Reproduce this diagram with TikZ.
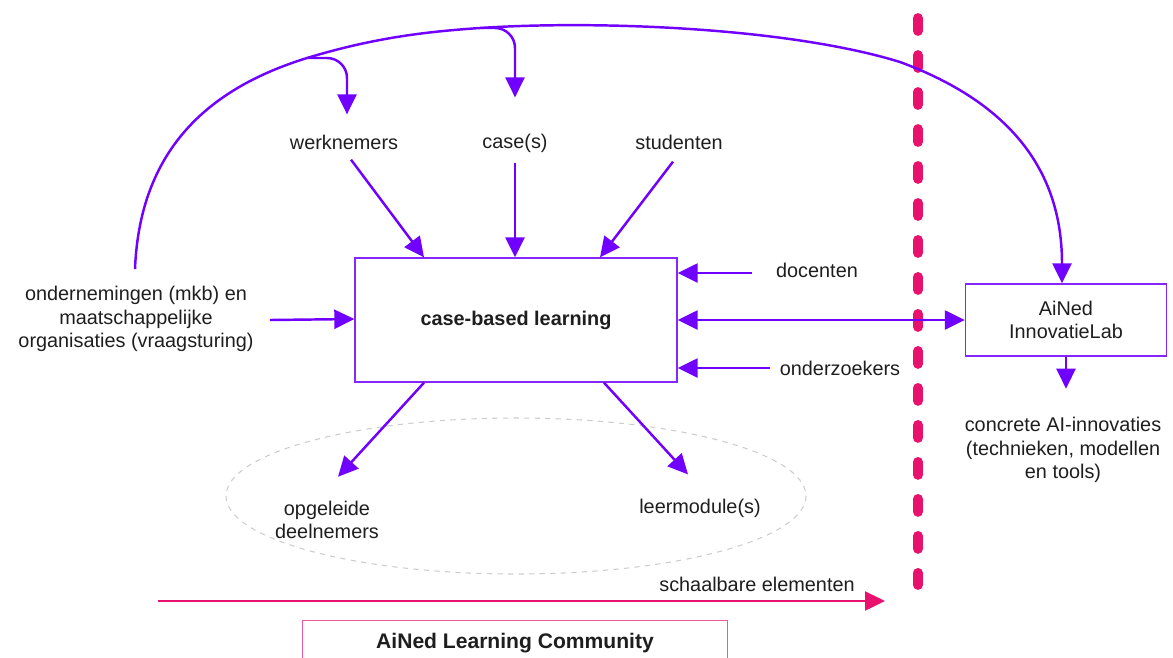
\documentclass[tikz,border=0pt]{standalone}
\usepackage{fontspec}
\setmainfont{Liberation Sans}
\usetikzlibrary{arrows.meta,calc}
\definecolor{violet}{RGB}{112,0,255}
\definecolor{roze}{RGB}{232,18,110}
\definecolor{tekst}{RGB}{30,30,30}
\tikzset{
  punt/.tip={Triangle[length=4mm,width=3.8mm]},
  flow/.style={draw=violet,line width=1.4pt,-punt},
  lbl/.style={inner sep=0pt,align=center,text=tekst,font=\fontsize{11.3}{13.2}\selectfont},
  vak/.style={draw=violet!85,line width=0.8pt,fill=white,inner sep=0pt,align=center,text=tekst,font=\fontsize{11.3}{13.2}\selectfont}
}
\begin{document}
\begin{tikzpicture}[x=0.02cm,y=-0.02cm]
       \useasboundingbox (0,0) rectangle (1173,657);
       % scheiding
       \draw[roze,line width=5.6pt,line cap=round,dash pattern=on 0.26cm off 0.48cm] (918,18) -- (918,585);
       \draw[gray!40,dashed,line width=0.6pt] (516,496) ellipse [x radius=290,y radius=78];
       \node[vak,minimum width=6.44cm,minimum height=2.48cm,font=\fontsize{11.3}{13.2}\selectfont\bfseries] (cbl) at (516,320) {case-based learning};
       \node[vak,minimum width=4.02cm,minimum height=1.44cm] (lab) at (1066,320) {AiNed\\InnovatieLab};
       \node[lbl] (werk) at (344,142) {werknemers};
       \node[lbl] (cases) at (515,143) {case(s)};
       \node[lbl] (stud) at (679,142) {studenten};
       \node[lbl] (doc) at (817,270) {docenten};
       \node[lbl] (onderz) at (840,368) {onderzoekers};
       \node[lbl] (org) at (136,319) {ondernemingen (mkb) en\\maatschappelijke\\organisaties (vraagsturing)};
       \node[lbl] (opg) at (327,520) {opgeleide\\deelnemers};
       \node[lbl] (leer) at (700,508) {leermodule(s)};
       \node[lbl] (innov) at (1063,450) {concrete AI-innovaties\\(technieken, modellen\\en tools)};
       \node[lbl] (schaal) at (757,584) {schaalbare elementen};
       \node[draw=roze!70,line width=0.8pt,minimum width=8.5cm,minimum height=0.9cm,inner sep=0pt,text=tekst,
             font=\fontsize{12}{14}\selectfont\bfseries] (alc) at (515,643) {AiNed Learning Community};
       % inputs
       \draw[flow] ($(werk.south)+(7,10)$) -- ($(cbl.north)+(-92,0)$);
       \draw[flow] ($(cases.south)+(0,10)$) -- (cases.south |- cbl.north);
       \draw[flow] ($(stud.south)+(-6,12)$) -- ($(cbl.north)+(84,0)$);
       \draw[flow] (doc.west |- 0,273) ++(-24,0) coordinate (d0) -- (d0 -| cbl.east);
       \draw[flow] (onderz.west |- 0,368) ++(-10,0) coordinate (o0) -- (o0 -| cbl.east);
       \draw[flow] ($(org.east)+(16,1)$) -- (org.east -| cbl.west);
       \draw[flow,punt-punt] (cbl.east) -- (lab.west);
       % outputs
       \draw[flow] ($(cbl.south)+(-92,0)$) -- ($(opg.north)+(11,-24)$);
       \draw[flow] ($(cbl.south)+(88,0)$) -- ($(leer.north)+(-12,-24)$);
       \draw[flow] (lab.south) -- ($(lab.south)+(0,32)$);
       % vraagsturing boog
       \coordinate (b1) at (307,58);
       \coordinate (b2) at (480,28);
       \draw[flow] ($(org.north)+(-1,-17)$) .. controls (140,140) and (220,85) .. (b1)
                   .. controls (370,39) and (420,32) .. (b2)
                   .. controls (600,20) and (790,28) .. (900,62)
                   .. controls (1030,110) and (1062,190) .. (lab.north -| 1062,0);
       \draw[flow,rounded corners=0.4cm] (b1) -| ($(werk.north)+(3,-20)$);
       \draw[flow,rounded corners=0.4cm] (b2) -| ($(cases.north)+(0,-36)$);
       % schaalbaar
       \draw[roze,line width=1.4pt,-punt] (158,601) -- (885,601);
\end{tikzpicture}
\end{document}
